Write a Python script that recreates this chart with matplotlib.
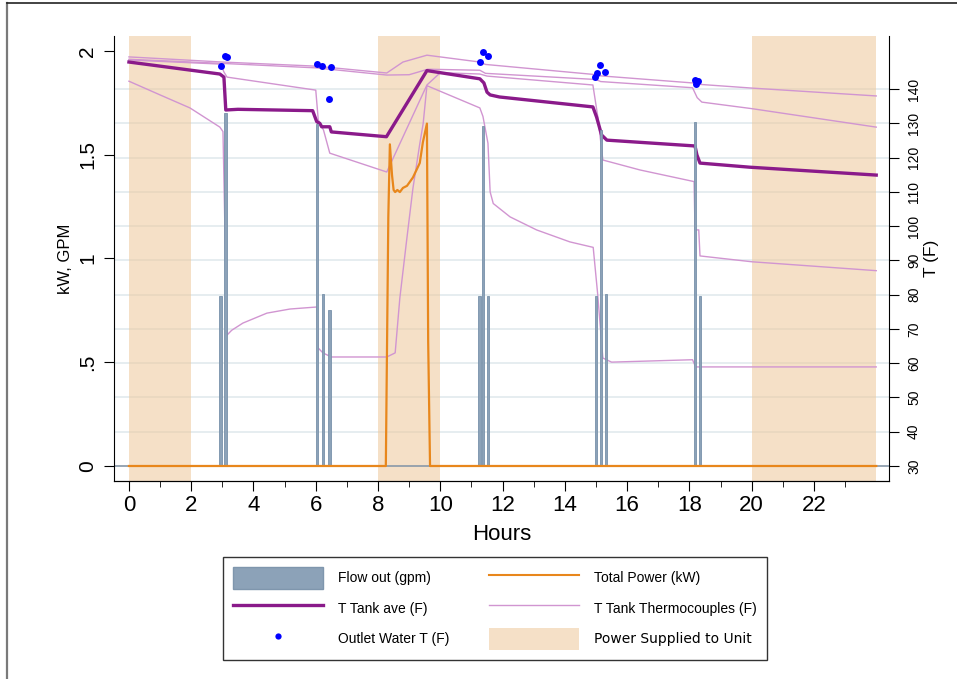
"""Tank temperatures, draws and element power over a 24 h test day."""
import matplotlib
matplotlib.use("Agg")
import matplotlib.pyplot as plt  # noqa: E402
from matplotlib.lines import Line2D  # noqa: E402
from matplotlib.patches import Patch  # noqa: E402

plt.rcParams["font.family"] = ["Liberation Sans", "DejaVu Sans"]

# --- data ---
power_on = [(0, 2), (8, 10), (20, 24)]

flow_hours = [2.95, 3.11, 6.04, 6.23, 6.45, 11.27, 11.37, 11.53, 15.0, 15.16, 15.32, 18.18, 18.34]
flow_gpm = [0.82, 1.70, 1.65, 0.83, 0.75, 0.82, 1.64, 0.82, 0.82, 1.62, 0.83, 1.66, 0.82]

power_hours = [0, 8.25, 8.33, 8.38, 8.45, 8.5, 8.55, 8.62, 8.7, 8.8, 8.93, 9.12, 9.34, 9.44,
               9.57, 9.61, 9.67, 24]
power_kw = [0, 0, 1.2, 1.55, 1.40, 1.33, 1.32, 1.33, 1.32, 1.34, 1.35, 1.39, 1.46, 1.56,
            1.65, 0.6, 0, 0]

tave_hours = [0, 2.92, 3.05, 3.11, 3.5, 5.9, 6.03, 6.13, 6.19, 6.45, 6.5, 8.27, 9.57,
              11.27, 11.4, 11.5, 11.6, 11.9, 14.9, 15.02, 15.18, 15.35, 18.18, 18.24, 18.34,
              19.94, 24]
tave_f = [147.9, 144.4, 143.5, 133.9, 134.1, 133.7, 130.5, 130.0, 129.0, 129.0, 127.5, 126.1,
          145.4, 143.0, 141.8, 139.1, 138.3, 137.7, 134.8, 131.8, 126.6, 125.1, 123.4, 120.8,
          118.4, 117.2, 114.9]

tc1_hours = [0, 3.0, 6.0, 8.28, 8.8, 9.57, 11.27, 11.45, 14.9, 15.1, 18.1, 18.3, 20, 24]
tc1_f = [149.4, 147.9, 146.7, 144.7, 147.9, 149.9, 147.9, 147.2, 144.3, 143.9, 141.8, 141.4,
         140.3, 138.0]

tc2_hours = [0, 3.0, 6.0, 8.28, 9.0, 9.6, 11.27, 11.45, 15.0, 15.15, 18.1, 18.25, 18.4, 20, 24]
tc2_f = [148.7, 147.5, 146.2, 144.1, 144.2, 145.8, 145.5, 144.6, 142.8, 142.2, 140.4, 137.5,
         136.2, 134.3, 128.9]

tc3_hours = [0, 2.95, 3.05, 3.15, 6.0, 6.08, 6.25, 6.45, 8.28, 9.57, 10.0, 11.27, 11.5, 14.9,
             15.06, 15.22, 16.41, 18.15, 18.18, 18.3, 18.34, 20.0, 24]
tc3_f = [148.5, 147.3, 145.0, 143.5, 139.7, 131.0, 128.0, 121.3, 115.8, 141.2, 144.8, 144.4,
         143.8, 141.2, 131.8, 119.3, 116.4, 113.0, 98.9, 98.9, 91.3, 89.6, 87.0]

tc4_hours = [0, 1, 1.96, 2.92, 3.02, 3.15, 3.3, 3.66, 4.43, 5.17, 6.04, 6.08, 6.23, 6.5, 8.28,
             8.55, 8.7, 8.92, 9.12, 9.34, 9.45, 9.57, 11.27, 11.37, 11.53, 11.6, 11.7, 12.24,
             13.09, 14.16, 14.91, 15.05, 15.22, 15.5, 18.1, 18.2, 24]
tc4_f = [142.3, 138.3, 134.5, 128.9, 127.6, 68.2, 69.6, 71.7, 74.6, 75.8, 76.4, 64.4, 63.0,
         61.8, 61.8, 63.0, 79.0, 96.0, 111.0, 124.0, 130.0, 141.0, 134.5, 132.0, 124.2, 110.0,
         106.6, 102.7, 98.9, 95.4, 93.8, 80.5, 61.5, 60.3, 61.0, 58.9, 58.9]

outlet_hours = [2.95, 3.1, 3.15, 6.03, 6.2, 6.48, 6.43, 11.27, 11.36, 11.54,
                14.96, 15.02, 15.12, 15.29, 18.18, 18.28, 18.2]
outlet_f = [146.7, 149.6, 149.4, 147.3, 146.8, 146.5, 137.2, 148.0, 150.9, 149.6,
            143.6, 144.6, 147.0, 145.0, 142.8, 142.3, 141.6]

x_ticks = list(range(0, 23, 2))
kw_ticks = [0, 0.5, 1, 1.5, 2]
kw_labels = ["0", ".5", "1", "1.5", "2"]
t_ticks = list(range(30, 150, 10))

# --- styles ---
SHADE = "#eec79a"
FLOW = "#8ca2b8"
ORANGE = "#e8871c"
PURPLE = "#8a1a8a"
PINK = "#d195d1"
GRID = "#e2eaee"

fig = plt.figure(figsize=(9.57, 6.79), dpi=100)
ax = fig.add_axes([114 / 957, 1 - 481 / 679, 775 / 957, 445 / 679])
ax2 = ax.twinx()
ax.set_zorder(2); ax2.set_zorder(1); ax.patch.set_visible(False)

ax.set_xlim(-0.48, 24.41)
ax.set_ylim(-0.0723, 2.072)
ax2.set_ylim(25.6, 155.5)

# temperature axis: grid, shaded power windows, temperatures
ax2.set_axisbelow(True)
ax2.yaxis.grid(True, color=GRID, lw=1.2)
for a, b in power_on:
    ax2.axvspan(a, b, color=SHADE, alpha=0.55, lw=0, zorder=1)
for h, t in [(tc1_hours, tc1_f), (tc2_hours, tc2_f), (tc3_hours, tc3_f), (tc4_hours, tc4_f)]:
    ax2.plot(h, t, color=PINK, lw=1.0, zorder=3)
ax2.plot(tave_hours, tave_f, color=PURPLE, lw=2.4, zorder=4)
ax2.plot(outlet_hours, outlet_f, "o", color="#0000ff", ms=5, mec="none", zorder=5)

# kW / GPM axis: flow draws and element power
ax.axhline(0, color="#8a9aaa", lw=1.2, zorder=1)
ax.bar(flow_hours, flow_gpm, width=0.09, color=FLOW, edgecolor="#7891aa", lw=0.6, zorder=2)
ax.plot(power_hours, power_kw, color=ORANGE, lw=1.6, zorder=3)

for a in (ax, ax2):
    a.spines["top"].set_visible(False)
ax.spines["right"].set_visible(False)
ax2.spines["left"].set_visible(False)

ax.set_xticks(x_ticks)
ax.set_xticks(range(1, 24, 2), minor=True)
ax.tick_params(axis="x", which="major", length=7, labelsize=16, pad=3)
ax.tick_params(axis="x", which="minor", length=4)
ax.set_yticks(kw_ticks)
ax.set_yticklabels(kw_labels, rotation=90, va="center")
ax.tick_params(axis="y", length=7, labelsize=15, pad=5)
ax2.set_yticks(t_ticks)
ax2.set_yticklabels([str(t) for t in t_ticks], rotation=90, va="center")
ax2.tick_params(axis="y", length=7, labelsize=10, pad=6)

ax.set_xlabel("Hours", fontsize=16, labelpad=6)
ax.set_ylabel("kW, GPM", fontsize=12, labelpad=4)
ax2.set_ylabel("T (F)", fontsize=12.5, labelpad=2)

handles = [Patch(facecolor=FLOW, edgecolor="#7f96ad"),
           Line2D([], [], color=PURPLE, lw=2.4),
           Line2D([], [], marker="o", ls="none", color="#0000ff", ms=4.5, mec="none"),
           Line2D([], [], color=ORANGE, lw=1.5),
           Line2D([], [], color=PINK, lw=1.0),
           Patch(facecolor=SHADE, alpha=0.55, lw=0)]
labels = ["Flow out (gpm)", "T Tank ave (F)", "Outlet Water T (F)",
          "Total Power (kW)", "T Tank Thermocouples (F)", "Power Supplied to Unit"]
leg = fig.legend(handles, labels, ncol=2, loc="upper left",
                 bbox_to_anchor=(223 / 957, 1 - 557 / 679), borderaxespad=0,
                 frameon=True, fancybox=False, edgecolor="black", fontsize=10,
                 handlelength=6.5, handleheight=2.05, handletextpad=1.08,
                 columnspacing=2.8, labelspacing=0.62, borderpad=0.72)
leg.get_frame().set_linewidth(1.0)
leg.get_texts()[5].set_family("DejaVu Sans")

# outer frame edges visible in the reference
fig.add_artist(Line2D([7 / 957, 7 / 957], [0, 1 - 3 / 679], transform=fig.transFigure,
                      color="#7a7a7a", lw=1.6))
fig.add_artist(Line2D([7 / 957, 1], [1 - 3 / 679, 1 - 3 / 679], transform=fig.transFigure,
                      color="#222222", lw=1.2))

fig.savefig("out.png", dpi=100)
plt.close(fig)
